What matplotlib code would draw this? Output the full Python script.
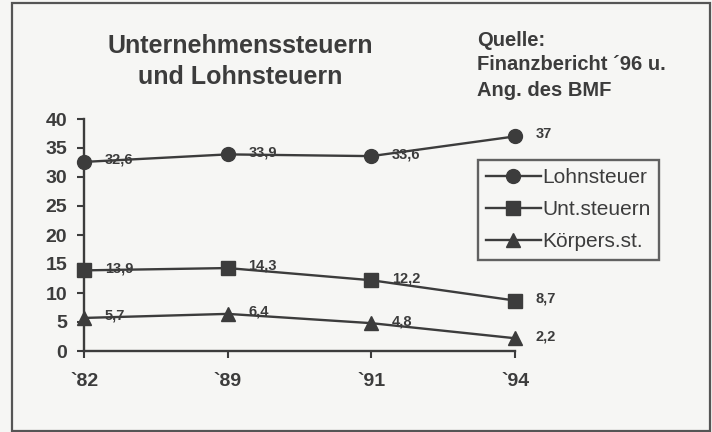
import matplotlib.pyplot as plt
from matplotlib.patches import Rectangle

# Unternehmenssteuern und Lohnsteuern (scan recreation)

jahre = ['`82', '`89', '`91', '`94']
lohnsteuer = [32.6, 33.9, 33.6, 37.0]
untsteuern = [13.9, 14.3, 12.2, 8.7]
koerpers = [5.7, 6.4, 4.8, 2.2]
namen = ['Lohnsteuer', 'Unt.steuern', 'Körpers.st.']

ink = '#3c3c3c'
plt.rcParams['font.family'] = ['Liberation Sans', 'DejaVu Sans']

fig = plt.figure(figsize=(7.12, 4.32), dpi=100, facecolor='#f6f6f4')
ax = fig.add_axes([84/712, 1 - 351/432, (515 - 84)/712, (351 - 119)/432])
ax.set_facecolor('none')

x = list(range(len(jahre)))
serien = [(lohnsteuer, 'o'), (untsteuern, 's'), (koerpers, '^')]
for (werte, m), name in zip(serien, namen):
    ax.plot(x, werte, color=ink, lw=1.7, marker=m, markersize=10,
            label=name, clip_on=False, zorder=3)
    for xi, v in zip(x, werte):
        txt = ('%g' % v).replace('.', ',')
        ax.annotate(txt, (xi, v), xytext=(15, 1.5), textcoords='offset points',
                    ha='left', va='center', fontsize=10.5, fontweight='bold',
                    color=ink)

ax.set_xlim(0, 3)
ax.set_ylim(0, 40)
ax.set_yticks(range(0, 41, 5))
ax.set_xticks(x)
ax.set_xticklabels(jahre)
for s in ['top', 'right']:
    ax.spines[s].set_visible(False)
for s in ['left', 'bottom']:
    ax.spines[s].set_color(ink)
    ax.spines[s].set_linewidth(1.7)
ax.tick_params(axis='both', colors=ink, width=1.5, length=5, direction='out',
               labelsize=14)
ax.tick_params(axis='y', pad=7)
ax.tick_params(axis='x', pad=11)
for lab in ax.get_xticklabels() + ax.get_yticklabels():
    lab.set_fontweight('bold')

leg = ax.legend(loc='upper left', bbox_to_anchor=(478/712, 1 - 160/432),
                bbox_transform=fig.transFigure, frameon=True, fancybox=False,
                fontsize=15, handlelength=2.6, handletextpad=0.1,
                borderpad=0.4, labelspacing=0.62, borderaxespad=0)
leg.get_frame().set_edgecolor(ink)
leg.get_frame().set_linewidth(1.7)
leg.get_frame().set_facecolor('none')
for t in leg.get_texts():
    t.set_color(ink)

fig.text(240/712, 1 - 46/432, 'Unternehmenssteuern', ha='center', va='center',
         fontsize=18, fontweight='bold', color=ink)
fig.text(240/712, 1 - 77/432, 'und Lohnsteuern', ha='center', va='center',
         fontsize=18, fontweight='bold', color=ink)

quelle = ['Quelle:', 'Finanzbericht ´96 u.', 'Ang. des BMF']
for i, zeile in enumerate(quelle):
    fig.text(477/712, 1 - (40 + 25*i)/432, zeile, ha='left', va='center',
             fontsize=14.5, fontweight='bold', color=ink)

fig.patches.append(Rectangle((12/712, 1/432), (710 - 12)/712, (429 - 1)/432,
                             transform=fig.transFigure, fill=False,
                             edgecolor='#555555', lw=1.6))

fig.savefig('out.png', dpi=100, facecolor=fig.get_facecolor())
